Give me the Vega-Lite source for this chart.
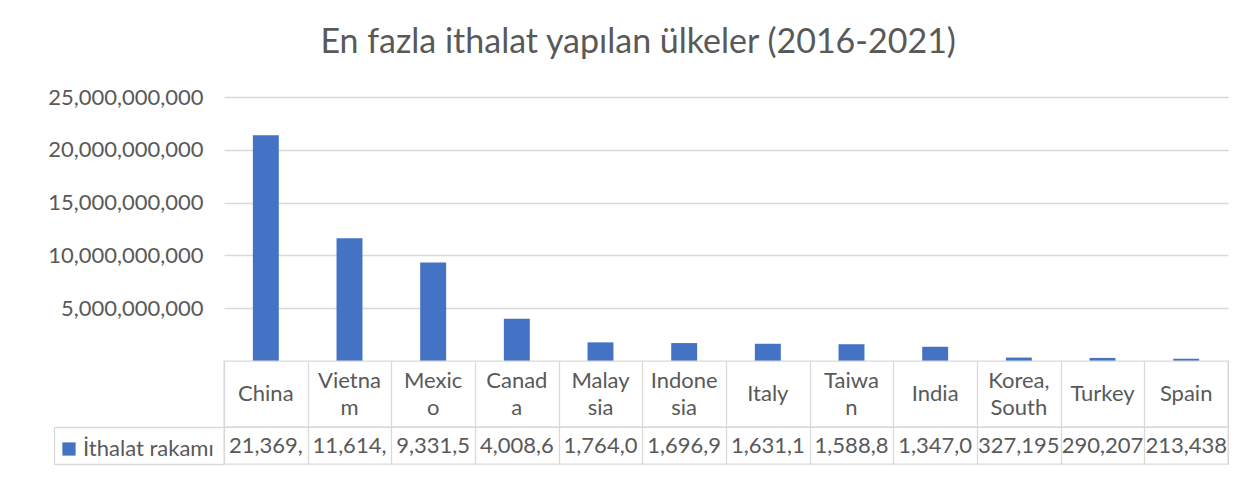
{
  "$schema": "https://vega.github.io/schema/vega-lite/v6.json",
  "padding": {"left": 47, "top": 26, "right": 0, "bottom": 0},
  "background": "white",
  "bounds": "flush",
  "title": {"text": "En fazla ithalat yapılan ülkeler (2016-2021)", "font": "Lato", "fontSize": 34, "fontWeight": "normal", "color": "#595959", "anchor": "middle", "frame": "bounds", "offset": 26},
  "data": {"values": [
    {"country": "China", "l1": "China", "l2": null, "value": 21369500000, "series": "İthalat rakamı"},
    {"country": "Vietnam", "l1": "Vietna", "l2": "m", "value": 11614300000, "series": "İthalat rakamı"},
    {"country": "Mexico", "l1": "Mexic", "l2": "o", "value": 9331500000, "series": "İthalat rakamı"},
    {"country": "Canada", "l1": "Canad", "l2": "a", "value": 4008600000, "series": "İthalat rakamı"},
    {"country": "Malaysia", "l1": "Malay", "l2": "sia", "value": 1764000000, "series": "İthalat rakamı"},
    {"country": "Indonesia", "l1": "Indone", "l2": "sia", "value": 1696900000, "series": "İthalat rakamı"},
    {"country": "Italy", "l1": "Italy", "l2": null, "value": 1631100000, "series": "İthalat rakamı"},
    {"country": "Taiwan", "l1": "Taiwa", "l2": "n", "value": 1588800000, "series": "İthalat rakamı"},
    {"country": "India", "l1": "India", "l2": null, "value": 1347000000, "series": "İthalat rakamı"},
    {"country": "Korea, South", "l1": "Korea,", "l2": "South", "value": 327195000, "series": "İthalat rakamı"},
    {"country": "Turkey", "l1": "Turkey", "l2": null, "value": 290207000, "series": "İthalat rakamı"},
    {"country": "Spain", "l1": "Spain", "l2": null, "value": 213438000, "series": "İthalat rakamı"}
  ]},
  "transform": [{"calculate": "substring(format(datum.value, ',.0f'), 0, 7)", "as": "cell"}],
  "spacing": 0,
  "resolve": {"legend": {"color": "independent"}},
  "vconcat": [
    {
      "width": 1004, "height": 264,
      "view": {"stroke": null},
      "mark": {"type": "bar", "width": {"band": 0.31}},
      "encoding": {
        "x": {"field": "country", "type": "nominal", "sort": ["China", "Vietnam", "Mexico", "Canada", "Malaysia", "Indonesia", "Italy", "Taiwan", "India", "Korea, South", "Turkey", "Spain"], "scale": {"paddingInner": 0, "paddingOuter": 0}, "axis": null},
        "y": {"field": "value", "type": "quantitative", "scale": {"domain": [0, 25000000000], "nice": false},
          "axis": {"values": [5000000000, 10000000000, 15000000000, 20000000000, 25000000000], "format": ",.0f", "title": null, "domain": false, "ticks": false, "labelPadding": 21, "grid": true, "gridColor": "#d9d9d9", "gridWidth": 1.3, "labelFontSize": 22, "labelFont": "Lato", "labelColor": "#595959"}},
        "color": {"field": "series", "type": "nominal", "scale": {"range": ["#4472C4"]},
          "legend": {"orient": "none", "legendX": -166, "legendY": 341, "title": null, "symbolType": "square", "symbolSize": 175, "symbolStrokeWidth": 0, "labelFontSize": 22, "labelFont": "Lato", "labelColor": "#595959", "padding": 0, "labelOffset": 3}}
      }
    },
    {
      "width": 1004, "height": 66,
      "view": {"stroke": "#d9d9d9", "strokeWidth": 1.3},
      "encoding": {
        "x": {"field": "country", "type": "nominal", "sort": ["China", "Vietnam", "Mexico", "Canada", "Malaysia", "Indonesia", "Italy", "Taiwan", "India", "Korea, South", "Turkey", "Spain"], "scale": {"paddingInner": 0, "paddingOuter": 0},
          "axis": {"grid": true, "tickBand": "extent", "labels": false, "ticks": false, "domain": false, "title": null, "gridColor": "#d9d9d9", "gridWidth": 1.3}}
      },
      "layer": [
        {
          "transform": [{"filter": "datum.l2 == null"}],
          "mark": {"type": "text", "fontSize": 22, "font": "Lato", "color": "#595959"},
          "encoding": {"text": {"field": "l1"}}
        },
        {
          "transform": [{"filter": "datum.l2 != null"}],
          "mark": {"type": "text", "fontSize": 22, "font": "Lato", "color": "#595959", "dy": -13.5},
          "encoding": {"text": {"field": "l1"}}
        },
        {
          "transform": [{"filter": "datum.l2 != null"}],
          "mark": {"type": "text", "fontSize": 22, "font": "Lato", "color": "#595959", "dy": 13.5},
          "encoding": {"text": {"field": "l2"}}
        }
      ]
    },
    {
      "width": 1004, "height": 37,
      "view": {"stroke": "#d9d9d9", "strokeWidth": 1.3},
      "mark": {"type": "text", "fontSize": 22, "font": "Lato", "color": "#595959"},
      "encoding": {
        "x": {"field": "country", "type": "nominal", "sort": ["China", "Vietnam", "Mexico", "Canada", "Malaysia", "Indonesia", "Italy", "Taiwan", "India", "Korea, South", "Turkey", "Spain"], "scale": {"paddingInner": 0, "paddingOuter": 0},
          "axis": {"grid": true, "tickBand": "extent", "labels": false, "ticks": false, "domain": false, "title": null, "gridColor": "#d9d9d9", "gridWidth": 1.3}},
        "y": {"field": "series", "type": "nominal", "scale": {"paddingInner": 0, "paddingOuter": 0},
          "axis": {"offset": 170, "tickSize": -170, "tickBand": "extent", "labels": false, "title": null, "domainColor": "#d9d9d9", "tickColor": "#d9d9d9", "domainWidth": 1.3, "tickWidth": 1.3}},
        "text": {"field": "cell"}
      }
    }
  ]
}
